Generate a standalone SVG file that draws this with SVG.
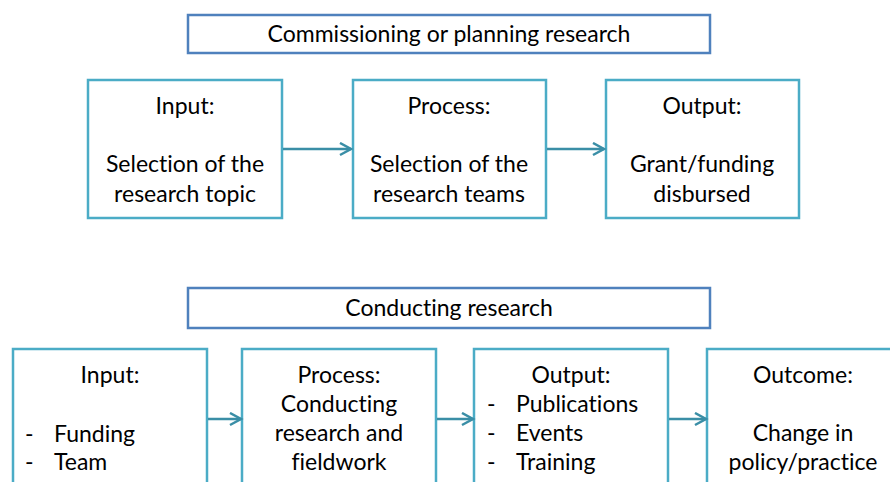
<svg xmlns="http://www.w3.org/2000/svg" width="890" height="482" viewBox="0 0 890 482">
<defs>
<marker id="arr" markerUnits="userSpaceOnUse" markerWidth="16" markerHeight="16" refX="12" refY="7" orient="auto">
<polyline points="1,1 12,7 1,13" fill="none" stroke="#3a8ea6" stroke-width="2.5"/>
</marker>
<style>
.hdr{fill:#fff;stroke:#4f81bd;stroke-width:2.5}
.box{fill:#fff;stroke:#4bacc6;stroke-width:2.5}
text{font-family:Lato,"Open Sans","Liberation Sans",sans-serif;font-size:23px;fill:#000;font-variant-ligatures:none}
.c{text-anchor:middle}
.con line{stroke:#3a8ea6;stroke-width:2.5;marker-end:url(#arr)}
</style>
</defs>
<rect width="890" height="482" fill="#fff"/>
<g id="hdr1"><rect class="hdr" x="188" y="15" width="522" height="38"/><text class="c" x="449" y="42">Commissioning or planning research</text></g>
<g id="in1"><rect class="box" x="88" y="80" width="194" height="138"/><text class="c" x="185" y="114">Input:</text><text class="c" x="185" y="172">Selection of the</text><text class="c" x="185" y="202">research topic</text></g>
<g id="proc1"><rect class="box" x="353" y="80" width="193" height="138"/><text class="c" x="449" y="114">Process:</text><text class="c" x="449" y="172">Selection of the</text><text class="c" x="449" y="202">research teams</text></g>
<g id="out1"><rect class="box" x="606" y="80" width="193" height="138"/><text class="c" x="702" y="114">Output:</text><text class="c" x="702" y="172">Grant/funding</text><text class="c" x="702" y="202">disbursed</text></g>
<g id="hdr2"><rect class="hdr" x="188" y="288" width="522" height="40"/><text class="c" x="449" y="316">Conducting research</text></g>
<g id="in2"><rect class="box" x="13" y="349" width="194" height="150"/><text class="c" x="110" y="383">Input:</text><text x="25" y="442">-</text><text x="54" y="442">Funding</text><text x="25" y="470">-</text><text x="54" y="470">Team</text></g>
<g id="proc2"><rect class="box" x="242" y="349" width="194" height="150"/><text class="c" x="339" y="383">Process:</text><text class="c" x="339" y="412">Conducting</text><text class="c" x="339" y="441">research and</text><text class="c" x="339" y="470">fieldwork</text></g>
<g id="out2"><rect class="box" x="474" y="349" width="194" height="150"/><text class="c" x="571" y="383">Output:</text><text x="487" y="412">-</text><text x="516" y="412">Publications</text><text x="487" y="441">-</text><text x="516" y="441">Events</text><text x="487" y="470">-</text><text x="516" y="470">Training</text></g>
<g id="outc2"><rect class="box" x="707" y="349" width="194" height="150"/><text class="c" x="803" y="383">Outcome:</text><text class="c" x="803" y="441">Change in</text><text class="c" x="803" y="470">policy/practice</text></g>
<g id="connectors" class="con">
<line x1="283" y1="149" x2="351" y2="149"/>
<line x1="547" y1="149" x2="604" y2="149"/>
<line x1="208" y1="419" x2="241" y2="419"/>
<line x1="437" y1="419" x2="473" y2="419"/>
<line x1="669" y1="419" x2="706" y2="419"/>
</g>
</svg>
